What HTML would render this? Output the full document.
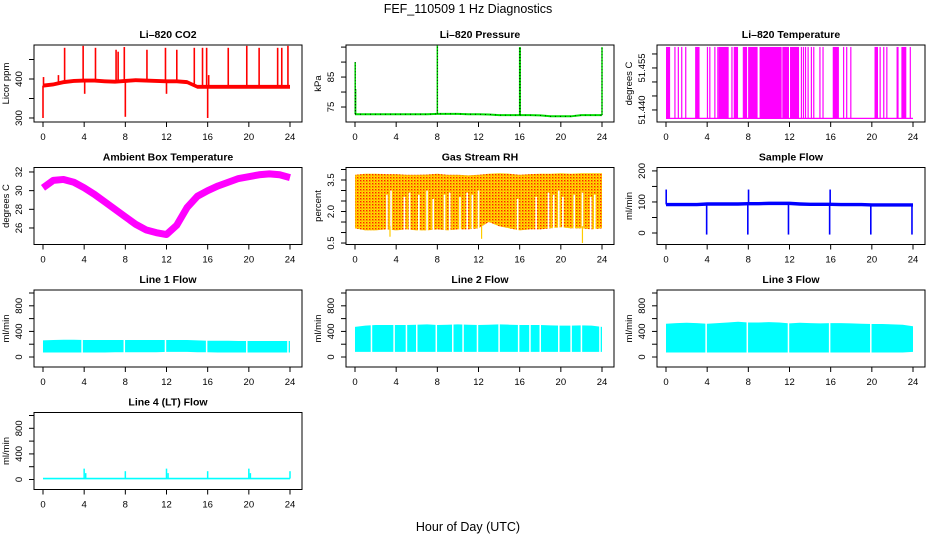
<!DOCTYPE html>
<html><head><meta charset="utf-8"><style>
html,body{margin:0;padding:0;background:#fff}
svg{display:block;font-family:"Liberation Sans",Arial,sans-serif}
</style></head><body>
<svg id="chart" width="936" height="540" viewBox="0 0 936 540" xmlns="http://www.w3.org/2000/svg">
<defs>
<pattern id="rhdots" width="3" height="3" patternUnits="userSpaceOnUse"><rect width="3" height="3" fill="#ffdd00"/><rect x="0" y="0" width="1.4" height="1.4" fill="#ff2000"/><rect x="1.5" y="1.5" width="0.9" height="0.9" fill="#ff6000"/></pattern>
</defs>
<text x="468" y="13" text-anchor="middle" font-size="12.5">FEF_110509  1 Hz Diagnostics</text>
<text x="468" y="531" text-anchor="middle" font-size="12.5">Hour of Day (UTC)</text>
</svg>
<script>
// ---- data ----
const xTicks = [0,4,8,12,16,20,24];
const hours = [0,1,2,3,4,5,6,7,8,9,10,11,12,13,14,15,16,17,18,19,20,21,22,23,24];

const co2Base = [383,386,392,395,396,396,394,393,395,397,396,395,394,394,392,380,380,380,380,380,380,380,380,380,380];
const co2SpikeHours = [0.0,0.05,1.5,2.1,3.9,4.05,5.1,7.1,7.3,7.9,8.0,10.1,11.9,12.0,13.0,14.7,15.5,15.9,16.0,16.1,18.0,19.8,21.0,22.8,23.2,23.8];
const co2SpikeValues = [300,405,410,480,485,362,480,475,470,482,303,475,480,362,475,480,480,480,300,410,480,485,480,480,480,485];

const pressBase = [72.6,72.6,72.6,72.6,72.6,72.6,72.6,72.6,72.7,72.7,72.7,72.6,72.6,72.5,72.3,72.3,72.3,72.3,72.2,71.9,71.9,71.9,72.3,72.3,72.3];
const pressSpikeHours = [0.02,0.06,8.0,16.0,16.05,24.0];
const pressSpikeValues = [90,81,95.5,95,95,95];

const tempLow = 51.437, tempHigh = 51.4625;
const tempStart = [0,0.81,1.14,1.47,1.86,2.83,3.97,4.2,4.69,4.98,5.11,6.35,6.58,7.46,7.56,7.98,9.09,11.3,12.05,13.1,13.3,13.5,13.75,14.07,14.3,14.9,15.2,16.2,17.2,17.5,17.9,20.26,20.75,21.1,21.4,22.4,22.87,23.68];
const tempEnd   = [0.4,0.86,1.19,1.52,1.91,3.26,4.02,4.25,4.74,5.03,6.09,6.4,7.0,7.51,7.88,8.9,11.24,11.95,12.93,13.15,13.35,13.55,13.8,14.12,14.35,14.95,15.25,16.8,17.25,17.55,17.95,20.6,20.8,21.15,21.45,22.6,23.35,23.73];

const ambTemp = [30.3,31.1,31.2,30.9,30.3,29.6,28.8,28.0,27.2,26.4,25.8,25.5,25.3,26.3,28.2,29.4,30.0,30.5,30.9,31.3,31.5,31.7,31.8,31.7,31.4];

const rhHigh = [3.75,3.8,3.8,3.78,3.78,3.75,3.75,3.76,3.8,3.75,3.75,3.72,3.75,3.8,3.82,3.8,3.75,3.78,3.8,3.8,3.82,3.8,3.82,3.82,3.82];
const rhLow  = [1.2,1.1,1.1,1.15,1.1,1.15,1.1,1.1,1.15,1.1,1.15,1.15,1.2,1.5,1.3,1.2,1.1,1.15,1.15,1.2,1.25,1.2,1.2,1.15,1.2];
const rhGapHours = [3.1,3.5,4.8,5.3,6.2,7.0,7.6,8.7,9.2,10.2,10.9,11.4,12.0,15.8,17.6,18.8,19.3,19.8,20.2,21.3,22.1,22.9,23.3];
const rhGapTops  = [2.8,3.0,2.7,2.9,2.8,3.0,2.6,2.8,2.9,2.7,2.9,2.8,3.0,2.6,2.7,2.9,2.8,3.0,2.7,2.8,2.9,2.7,2.8];
const rhDipHours = [3.4,12.3,22.1];
const rhDipValues = [0.8,0.7,0.5];

const sfBase = [92,92,92,92,94,94,94,94,95,95,96,96,96,94,93,93,93,92,92,92,91,91,91,91,91];
const sfSpikeHours = [0.02,3.95,7.95,8.02,11.9,15.9,15.95,19.9,23.9];
const sfSpikeValues = [140,-5,-5,140,-5,-5,140,-5,-5];

const l1High = [260,265,270,270,265,265,265,265,265,265,265,265,265,265,265,260,255,255,255,250,250,250,250,250,250];
const l1Low  = [70,70,70,70,70,70,70,75,75,75,75,75,80,80,80,75,75,70,70,70,70,70,70,70,70];
const l1Gaps = [3.8,7.9,11.9,15.9,19.8,23.8];

const l2High = [470,490,500,500,500,500,505,510,500,505,510,505,500,505,510,505,500,500,500,495,490,490,495,490,470];
const l2Low  = [80,80,80,80,80,80,80,80,80,80,80,80,80,80,80,80,80,80,80,80,80,80,80,80,80];
const l2Gaps = [1.6,3.8,5.0,6.0,7.9,9.5,10.5,11.9,14.0,15.9,17.0,18.0,19.8,21.0,22.0,23.8];

const l3High = [520,530,535,530,520,530,540,550,540,540,545,540,525,535,530,525,530,530,525,520,515,515,510,505,480];
const l3Low  = [70,70,70,70,70,70,70,70,70,70,70,70,70,70,70,70,70,70,70,70,70,70,70,70,80];
const l3Gaps = [3.9,7.9,11.9,15.9,19.9];

const l4Base = [15,15,15,15,15,15,15,15,15,15,15,15,15,15,15,15,15,15,15,15,15,15,15,15,15];
const l4SpikeHours = [4.0,4.15,8.0,12.0,12.15,16.0,20.0,20.15,24.0];
const l4SpikeValues = [170,100,130,170,100,130,170,100,130];

// ---- layout ----
const NS = "http://www.w3.org/2000/svg";
const svg = document.getElementById('chart');
const colLeft = [34,346,657], rowTop = [45,167.5,290,412.5];
const BW = 268, BH = 77;
function el(tag, attrs, parent){
  const e = document.createElementNS(NS, tag);
  for (const k in attrs) e.setAttribute(k, attrs[k]);
  (parent||svg).appendChild(e);
  return e;
}
function panel(col,row,title,ylab,ymin,ymax,yTicks,yLabels,name){
  const L = colLeft[col], T = rowTop[row];
  const g = el('g',{});
  
  
  const xs = h => L + 9 + h*247/24;
  const ys = v => T + BH - (v - ymin)/(ymax - ymin)*BH;
  const t = el('text',{x:L+BW/2,y:T-7,'text-anchor':'middle','font-size':'10.5','font-weight':'bold'},g);
  t.textContent = title;
  
  
  const plot = el('g',{},g);
  
  
  const axes = el('g',{stroke:'#000','stroke-width':'1',fill:'none'},g);
  
  
  el('rect',{x:L,y:T,width:BW,height:BH},axes);
  el('line',{x1:xs(0),x2:xs(24),y1:T+BH,y2:T+BH},axes);
  xTicks.forEach(h=>{
    el('line',{x1:xs(h),x2:xs(h),y1:T+BH,y2:T+BH+5},axes);
    const tx = el('text',{x:xs(h),y:T+BH+18,'text-anchor':'middle','font-size':'9.5',fill:'#000',stroke:'none'},g);
    tx.textContent = h;
    
    
  });
  yTicks.forEach(v=>{
    el('line',{x1:L,x2:L-5,y1:ys(v),y2:ys(v)},axes);
  });
  yLabels.forEach(v=>{
    const ty = el('text',{x:0,y:0,'text-anchor':'middle','font-size':'9.5',transform:`translate(${L-12},${ys(v)}) rotate(-90)`},g);
    ty.textContent = v;
    
    
  });
  const yl = el('text',{x:0,y:0,'text-anchor':'middle','font-size':'9.5',transform:`translate(${L-25},${T+BH/2}) rotate(-90)`},g);
  yl.textContent = ylab;
  
  
  return {xs,ys,plot};
}
function band(p,lo,hi,fill){
  let pts = hours.map((h,i)=>`${p.xs(h)},${p.ys(hi[i])}`);
  pts = pts.concat(hours.slice().reverse().map((h,j)=>`${p.xs(h)},${p.ys(lo[hours.length-1-j])}`));
  return el('polygon',{points:pts.join(' '),fill:fill},p.plot);
}
function spikes(p,hs,vs,base,color,w){
  hs.forEach((h,i)=>{
    const bi = Math.min(24,Math.max(0,Math.round(h)));
    el('line',{x1:p.xs(h),x2:p.xs(h),y1:p.ys(base[bi]),y2:p.ys(vs[i]),stroke:color,'stroke-width':w||1.5},p.plot);
  });
}

// CO2
let p = panel(0,0,'Li\u2013820 CO2','Licor ppm',289.7,487.2,[300,350,400,450],[300,400],'co2');
band(p, co2Base.map(v=>v-5), co2Base.map(v=>v+5), '#ff0000');
spikes(p, co2SpikeHours, co2SpikeValues, co2Base, '#ff0000', 1.6);

// Pressure
p = panel(1,0,'Li\u2013820 Pressure','kPa',70.0,95.7,[75,80,85,90,95],[75,85],'pressure');
el('polyline',{points:hours.map((h,i)=>`${p.xs(h)},${p.ys(pressBase[i])}`).join(' '),fill:'none',stroke:'#00dd00','stroke-width':2},p.plot);
el('polyline',{points:hours.map((h,i)=>`${p.xs(h)},${p.ys(pressBase[i])}`).join(' '),fill:'none',stroke:'#000','stroke-width':0.8,'stroke-dasharray':'1 4'},p.plot);
spikes(p, pressSpikeHours, pressSpikeValues, pressBase, '#00dd00', 1.5);
pressSpikeHours.forEach((h,i)=>{
  el('line',{x1:p.xs(h),x2:p.xs(h),y1:p.ys(pressBase[Math.round(Math.min(24,h))]),y2:p.ys(pressSpikeValues[i]),stroke:'#000','stroke-width':0.8,'stroke-dasharray':'1 2'},p.plot);
});

// Li-820 Temperature
p = panel(2,0,'Li\u2013820 Temperature','degrees C',51.4357,51.4632,[51.440,51.445,51.450,51.455,51.460],['51.440','51.455'],'li820-temperature');
el('line',{x1:p.xs(0),x2:p.xs(24),y1:p.ys(tempLow),y2:p.ys(tempLow),stroke:'#ff00ff','stroke-width':1.2},p.plot);
tempStart.forEach((s,i)=>{
  const x0 = p.xs(s), x1 = Math.max(p.xs(tempEnd[i]), x0+1.2);
  el('rect',{x:x0,y:p.ys(tempHigh),width:x1-x0,height:p.ys(tempLow)-p.ys(tempHigh),fill:'#ff00ff'},p.plot);
});

// Ambient box temperature
p = panel(0,1,'Ambient Box Temperature','degrees C',24.23,32.48,[26,28,30,32],[26,28,30,32],'ambient-temperature');
el('polyline',{points:hours.map((h,i)=>`${p.xs(h)},${p.ys(ambTemp[i])}`).join(' '),fill:'none',stroke:'#ff00ff','stroke-width':7,'stroke-linejoin':'round'},p.plot);

// Gas Stream RH
p = panel(1,1,'Gas Stream RH','percent',0.43,4.095,[0.5,1,1.5,2,2.5,3,3.5,4],['0.5','2.0','3.5'],'gas-stream-rh');
band(p, rhLow, rhHigh, 'url(#rhdots)');
rhGapHours.forEach((h,i)=>{
  el('line',{x1:p.xs(h),x2:p.xs(h),y1:p.ys(rhGapTops[i]),y2:p.ys(0.9),stroke:'#fff','stroke-width':1.6},p.plot);
});
rhDipHours.forEach((h,i)=>{
  el('line',{x1:p.xs(h),x2:p.xs(h),y1:p.ys(1.3),y2:p.ys(rhDipValues[i]),stroke:'#ffcc00','stroke-width':1.2},p.plot);
});

// Sample Flow
p = panel(2,1,'Sample Flow','ml/min',-37,211,[0,50,100,150,200],[0,100,200],'sample-flow');
band(p, sfBase.map(v=>v-6), sfBase.map(v=>v+5), '#0000ff');
spikes(p, sfSpikeHours, sfSpikeValues, sfBase, '#0000ff', 1.6);

// Line flows
const flowTicks = [0,200,400,600,800,1000], flowLabels = [0,400,800];
function flowPanel(col,row,title,name,lo,hi,gaps){
  const q = panel(col,row,title,'ml/min',-156,1047,flowTicks,flowLabels,name);
  band(q, lo, hi, '#00ffff');
  gaps.forEach(h=>{
    el('line',{x1:q.xs(h),x2:q.xs(h),y1:q.ys(600),y2:q.ys(0),stroke:'#fff','stroke-width':1.5},q.plot);
  });
  return q;
}
flowPanel(0,2,'Line 1 Flow','line1-flow',l1Low,l1High,l1Gaps);
flowPanel(1,2,'Line 2 Flow','line2-flow',l2Low,l2High,l2Gaps);
flowPanel(2,2,'Line 3 Flow','line3-flow',l3Low,l3High,l3Gaps);

// Line 4
p = panel(0,3,'Line 4 (LT) Flow','ml/min',-156,1047,flowTicks,flowLabels,'line4-flow');
band(p, l4Base.map(v=>v-12), l4Base.map(v=>v+12), '#00ffff');
spikes(p, l4SpikeHours, l4SpikeValues, l4Base, '#00ffff', 1.5);
</script>
</body></html>
